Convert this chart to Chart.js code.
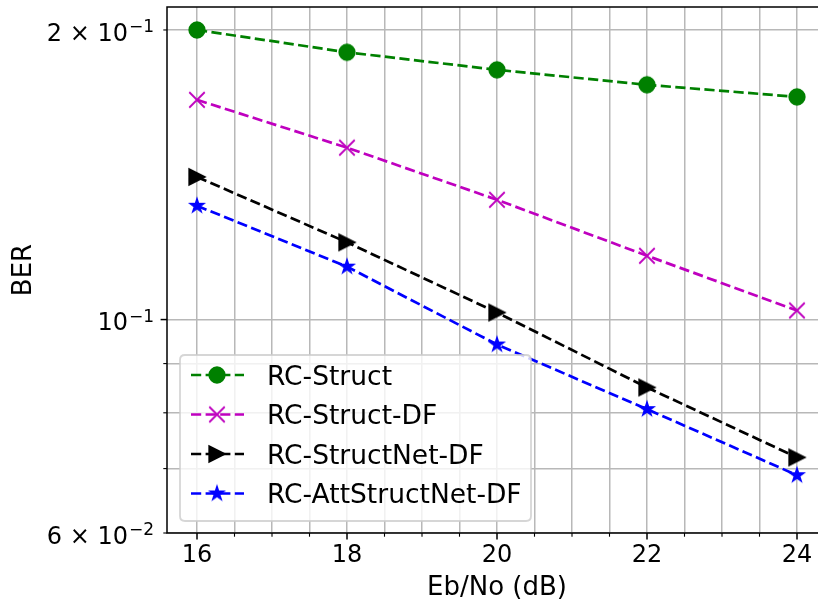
<!DOCTYPE html>
<html><head><meta charset="utf-8">
<script src="https://cdn.jsdelivr.net/npm/chart.js@4.4.0/dist/chart.umd.min.js"></script>
<style>
html,body{margin:0;padding:0;overflow:hidden;background:#fff;width:818px;height:605px}
#wrap{position:absolute;left:0;top:0;width:830px;height:605px}
canvas{display:block}
</style></head><body>
<div id="wrap"><canvas id="c" width="830" height="605" style="width:830px;height:605px"></canvas></div>
<script>
// ---- data ----
const ebno = [16, 18, 20, 22, 24];
const rcStruct = [0.2000, 0.1896, 0.1818, 0.1754, 0.1704];
const rcStructDF = [0.1692, 0.1509, 0.1332, 0.1165, 0.1022];
const rcStructNetDF = [0.1407, 0.1203, 0.1017, 0.0850, 0.0719];
const rcAttStructNetDF = [0.1313, 0.1135, 0.0942, 0.0807, 0.0689];
const seriesNames = ['RC-Struct', 'RC-Struct-DF', 'RC-StructNet-DF', 'RC-AttStructNet-DF'];
const xTickLabels = [16, 18, 20, 22, 24];
const xGridTicks = [16, 16.5, 17, 17.5, 18, 18.5, 19, 19.5, 20, 20.5, 21, 21.5, 22, 22.5, 23, 23.5, 24];
const yGridTicks = [0.06, 0.07, 0.08, 0.09, 0.1, 0.2];
const yLabelValues = [0.2, 0.1, 0.06];
const yLabelBase = ['2 × 10', '10', '6 × 10'];
const yLabelExp = ['−1', '−1', '−2'];
const xTitle = 'Eb/No (dB)';
const yTitle = 'BER';

const FONT = '"DejaVu Sans", "Liberation Sans", sans-serif';
const MS = 7.75;

function markerCanvas(kind, color) {
  const s = 26, c = document.createElement('canvas');
  c.width = s; c.height = s;
  const g = c.getContext('2d');
  g.translate(s / 2, s / 2);
  g.fillStyle = color; g.strokeStyle = color; g.lineWidth = 1.8;
  g.lineJoin = 'miter';
  g.beginPath();
  if (kind === 'circle') {
    g.arc(0, 0, MS, 0, Math.PI * 2); g.fill(); g.stroke();
  } else if (kind === 'x') {
    g.moveTo(-MS, -MS); g.lineTo(MS, MS); g.moveTo(-MS, MS); g.lineTo(MS, -MS); g.stroke();
  } else if (kind === 'tri') {
    g.moveTo(MS, 0); g.lineTo(-MS, MS); g.lineTo(-MS, -MS); g.closePath(); g.fill(); g.stroke();
  } else if (kind === 'star') {
    const R = 7.6, r = R * 0.381966;
    for (let k = 0; k < 10; k++) {
      const rad = k % 2 === 0 ? R : r;
      const a = -Math.PI / 2 + k * Math.PI / 5;
      const px = rad * Math.cos(a), py = rad * Math.sin(a);
      if (k === 0) g.moveTo(px, py); else g.lineTo(px, py);
    }
    g.closePath(); g.fill(); g.lineWidth = 1.2; g.stroke();
  }
  return c;
}

const colors = ['#008000', '#bf00bf', '#000000', '#0000ff'];
const kinds = ['circle', 'x', 'tri', 'star'];
const seriesVals = [rcStruct, rcStructDF, rcStructNetDF, rcAttStructNetDF];
const markers = kinds.map((k, i) => markerCanvas(k, colors[i]));
const DASH = [10.2, 4.4];

const datasets = seriesVals.map((vals, i) => ({
  label: seriesNames[i],
  data: ebno.map((x, j) => ({ x: x, y: vals[j] })),
  borderColor: colors[i],
  backgroundColor: colors[i],
  borderWidth: 2.7,
  borderDash: DASH,
  pointStyle: markers[i],
  pointRadius: 8,
  pointHoverRadius: 8,
  fill: false,
  tension: 0
}));

const decor = {
  id: 'decor',
  afterDatasetsDraw(chart) {
    const ctx = chart.ctx, a = chart.chartArea;
    const xs = chart.scales.x, ys = chart.scales.y;
    ctx.save();
    ctx.strokeStyle = '#000'; ctx.lineWidth = 1.5; ctx.lineCap = 'square';
    ctx.beginPath();
    ctx.moveTo(a.left, a.top); ctx.lineTo(a.right, a.top);
    ctx.moveTo(a.left, a.top); ctx.lineTo(a.left, a.bottom);
    ctx.moveTo(a.left, a.bottom); ctx.lineTo(a.right, a.bottom);
    ctx.stroke();
    ctx.lineCap = 'butt';
    xGridTicks.forEach(v => {
      const px = xs.getPixelForValue(v);
      const major = xTickLabels.includes(v);
      ctx.lineWidth = major ? 1.5 : 1.1;
      ctx.beginPath(); ctx.moveTo(px, a.bottom); ctx.lineTo(px, a.bottom + (major ? 6.4 : 3.7)); ctx.stroke();
    });
    yGridTicks.forEach(v => {
      const py = ys.getPixelForValue(v);
      const major = v === 0.1;
      ctx.lineWidth = major ? 1.5 : 1.1;
      ctx.beginPath(); ctx.moveTo(a.left, py); ctx.lineTo(a.left - (major ? 6.4 : 3.7), py); ctx.stroke();
    });
    ctx.fillStyle = '#000';
    yLabelValues.forEach((v, i) => {
      const py = ys.getPixelForValue(v);
      ctx.font = '24px ' + FONT;
      ctx.textAlign = 'right'; ctx.textBaseline = 'alphabetic';
      ctx.fillText(yLabelBase[i], 128, py + 10.7);
      ctx.font = '17px ' + FONT;
      ctx.textAlign = 'left';
      ctx.fillText(yLabelExp[i], 129, py + 2);
    });
    ctx.restore();
  },
  afterDraw(chart) {
    const ctx = chart.ctx;
    ctx.save();
    const bx = 180, by = 355, bw = 351, bh = 166, rr = 5;
    ctx.beginPath();
    ctx.moveTo(bx + rr, by); ctx.lineTo(bx + bw - rr, by); ctx.quadraticCurveTo(bx + bw, by, bx + bw, by + rr);
    ctx.lineTo(bx + bw, by + bh - rr); ctx.quadraticCurveTo(bx + bw, by + bh, bx + bw - rr, by + bh);
    ctx.lineTo(bx + rr, by + bh); ctx.quadraticCurveTo(bx, by + bh, bx, by + bh - rr);
    ctx.lineTo(bx, by + rr); ctx.quadraticCurveTo(bx, by, bx + rr, by); ctx.closePath();
    ctx.fillStyle = 'rgba(255,255,255,0.8)'; ctx.fill();
    ctx.strokeStyle = 'rgba(204,204,204,0.8)'; ctx.lineWidth = 1.8; ctx.stroke();
    const rows = [375, 414.5, 454, 493.5];
    seriesNames.forEach((name, i) => {
      const y = rows[i];
      ctx.strokeStyle = colors[i]; ctx.lineWidth = 2.7; ctx.setLineDash(DASH);
      ctx.beginPath(); ctx.moveTo(191, y); ctx.lineTo(244, y); ctx.stroke();
      ctx.setLineDash([]);
      const m = markers[i];
      ctx.drawImage(m, 217 - m.width / 2, y - m.height / 2);
      ctx.fillStyle = '#000'; ctx.font = '26.5px ' + FONT;
      ctx.textAlign = 'left'; ctx.textBaseline = 'alphabetic';
      ctx.fillText(name, 267, y + 9.8);
    });
    ctx.restore();
  }
};

new Chart(document.getElementById('c'), {
  type: 'line',
  data: { datasets: datasets },
  options: {
    responsive: false,
    animation: false,
    devicePixelRatio: 1,
    layout: { autoPadding: false, padding: { top: 7, right: 3, left: 0, bottom: 0 } },
    plugins: { legend: { display: false }, tooltip: { enabled: false } },
    scales: {
      x: {
        type: 'linear', min: 15.6, max: 24.4,
        afterBuildTicks: s => { s.ticks = xGridTicks.map(v => ({ value: v })); },
        afterFit: s => { s.height = 72; s.paddingLeft = 0; s.paddingRight = 0; s.paddingTop = 0; s.paddingBottom = 0; },
        ticks: {
          autoSkip: false, maxRotation: 0, minRotation: 0, padding: 8.5,
          color: '#000', font: { family: FONT, size: 24 },
          callback: v => xTickLabels.includes(v) ? String(v) : ''
        },
        grid: { color: '#b8b8b8', lineWidth: 1.5, drawTicks: false },
        border: { display: false },
        title: { display: true, text: xTitle, color: '#000', font: { family: FONT, size: 26 }, padding: { top: 0, bottom: 1 } }
      },
      y: {
        type: 'logarithmic', min: 0.06, max: 0.2113,
        afterBuildTicks: s => { s.ticks = yGridTicks.map(v => ({ value: v })); },
        afterFit: s => { s.width = 167; s.paddingLeft = 0; s.paddingRight = 0; s.paddingTop = 0; s.paddingBottom = 0; },
        ticks: { display: false },
        grid: { color: '#b8b8b8', lineWidth: 1.5, drawTicks: false },
        border: { display: false },
        title: { display: true, text: yTitle, color: '#000', font: { family: FONT, size: 26 }, padding: { top: 9, bottom: 0 } }
      }
    }
  },
  plugins: [decor]
});
</script>
</body></html>
